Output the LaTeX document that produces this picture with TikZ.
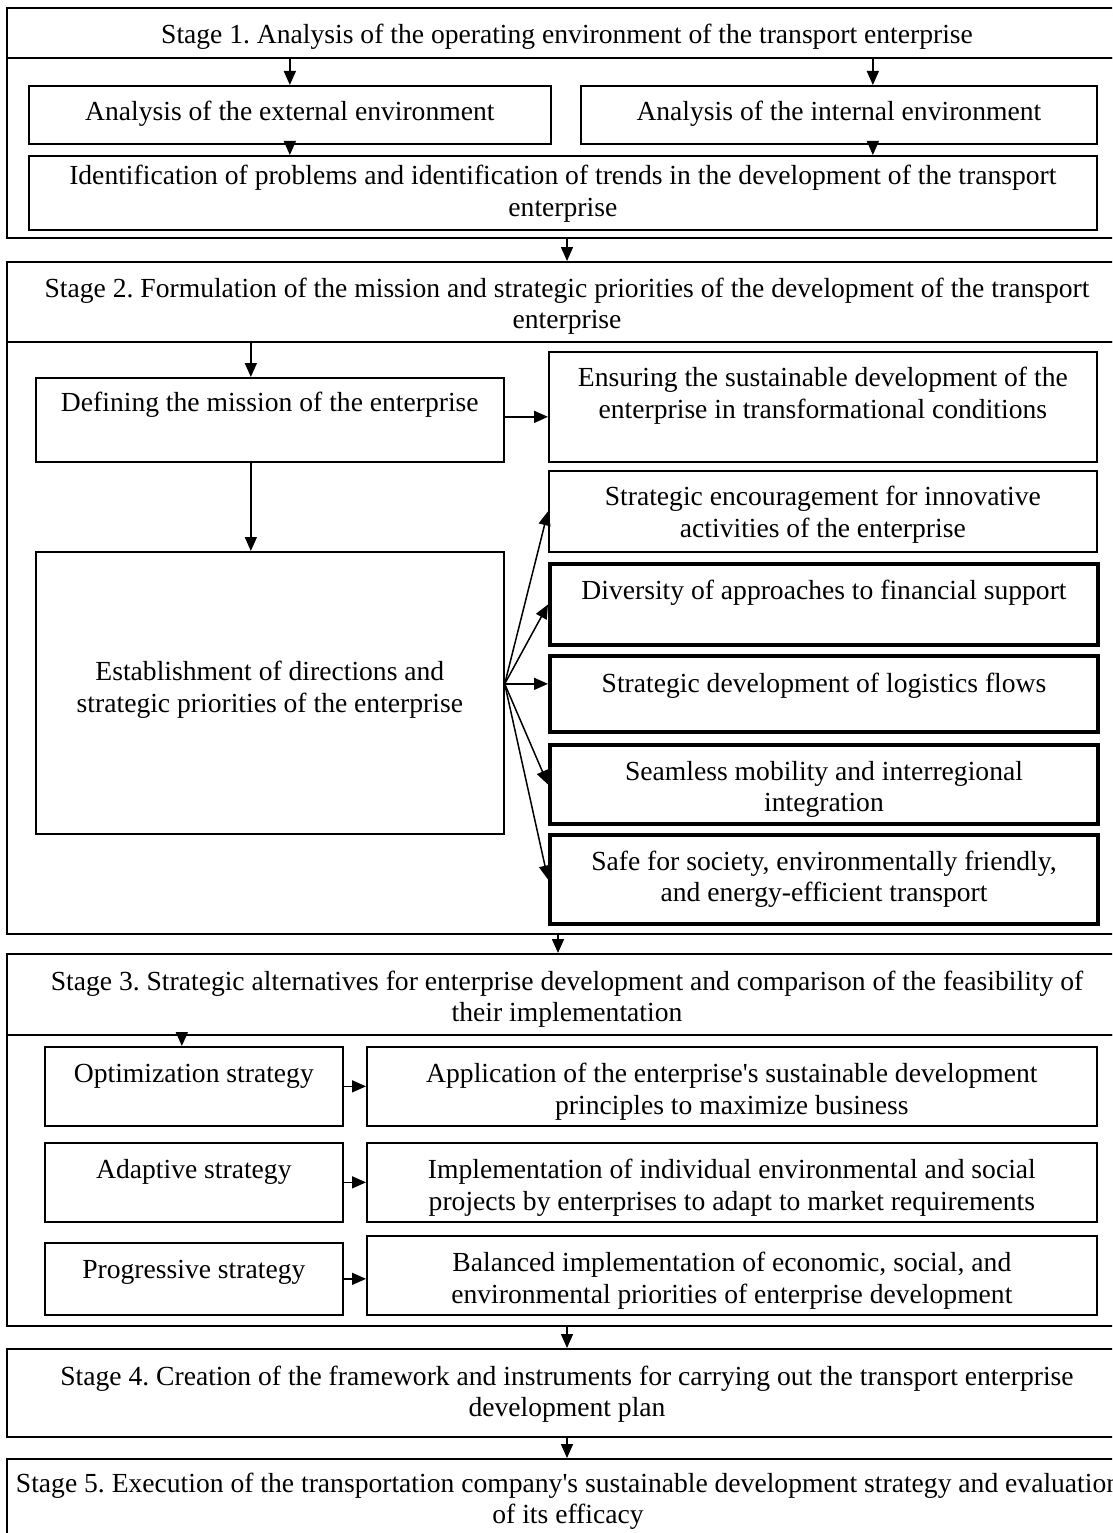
\documentclass[tikz,border=0pt]{standalone}
\usepackage{fontspec}
\setmainfont{Liberation Serif}
\usetikzlibrary{arrows.meta}
\frenchspacing

% text set at the top of a box: [baseline offset]{width}{height}{text}
\newcommand{\boxtext}[4][35pt]{\parbox[c][#3][t]{#2}{\centering\rule{0pt}{#1}#4}}

\tikzset{
  box/.style={draw, line width=1.7pt, inner sep=0pt, anchor=north west},
  boldbox/.style={box, line width=4pt},
  frame/.style={box, line width=2pt},
}

\begin{document}
\begin{tikzpicture}[x=1pt, y=-1pt,
  every node/.style={font=\fontsize{27.6pt}{31.5pt}\selectfont},
  >={Triangle[length=14pt,width=12pt]}, line width=1.5pt]
\useasboundingbox (0,0) rectangle (1112,1533);
\clip (0,0) rectangle (1112,1533);

% stage 1
\node[frame] (h1) at (6,7) {\boxtext[36pt]{1120pt}{50pt}{Stage 1. Analysis of the operating environment of the transport enterprise}};
\node[frame, minimum width=1120pt, minimum height=180pt] (b1) at (6,57) {};
\node[box] (ext) at (28,85) {\boxtext{522pt}{58pt}{Analysis of the external environment}};
\node[box] (int) at (580,85) {\boxtext{516pt}{58pt}{Analysis of the internal environment}};
\node[box] (idn) at (28,155) {\boxtext[29pt]{1068pt}{74pt}{Identification of problems and identification of trends in the development of the transport\\enterprise}};

\draw[->] (h1.south -| ext.north) -- (ext.north);
\draw[->] ([xshift=34pt]int.north |- h1.south) -- ([xshift=34pt]int.north);
\draw[->] (ext.south) -- (ext.south |- idn.north);
\draw[->] ([xshift=34pt]int.south) -- ([xshift=34pt]int.south |- idn.north);

% stage 2
\node[frame] (h2) at (6,261) {\boxtext{1120pt}{80pt}{Stage 2. Formulation of the mission and strategic priorities of the development of the transport\\enterprise}};
\node[frame, minimum width=1120pt, minimum height=592pt] (b2) at (6,341) {};
\node[box] (def) at (35,377) {\boxtext[34pt]{468pt}{84pt}{Defining the mission of the enterprise}};
\node[box] (est) at (35,551) {\boxtext[129pt]{468pt}{282pt}{Establishment of directions and\\strategic priorities of the enterprise}};
\node[box] (ens) at (548,351) {\boxtext{548pt}{110pt}{Ensuring the sustainable development of the\\enterprise in transformational conditions}};
\node[box] (str) at (548,470) {\boxtext{548pt}{81pt}{Strategic encouragement for innovative\\activities of the enterprise}};
\node[boldbox] (div) at (548,562) {\boxtext{548pt}{81pt}{Diversity of approaches to financial support}};
\node[boldbox] (log) at (548,654) {\boxtext[36pt]{548pt}{76pt}{Strategic development of logistics flows}};
\node[boldbox] (sea) at (548,743) {\boxtext{548pt}{79pt}{Seamless mobility and interregional\\integration}};
\node[boldbox] (saf) at (548,833) {\boxtext{548pt}{89pt}{Safe for society, environmentally friendly,\\and energy-efficient transport}};

\draw[->] (b1.south) -- (h2.north);
\draw[->] ([xshift=-19pt]def.north |- h2.south) -- ([xshift=-19pt]def.north);
\draw[->] ([yshift=3pt]def.east) -- ([yshift=3pt]def.east -| ens.west);
\draw[->] ([xshift=-19pt]def.south) -- ([xshift=-19pt]est.north);
\foreach \t in {str, div, sea, saf}
  \draw[->] ([yshift=9pt]est.east) -- (\t.west);
\draw[->] ([yshift=9pt]est.east) -- ([yshift=9pt]est.east -| log.west);

% stage 3
\node[frame] (h3) at (6,953) {\boxtext[36pt]{1120pt}{81pt}{Stage 3. Strategic alternatives for enterprise development and comparison of the feasibility of\\their implementation}};
\node[frame, minimum width=1120pt, minimum height=291pt] (b3) at (6,1034) {};
\node[box] (opt) at (44,1046) {\boxtext[36pt]{298pt}{79pt}{Optimization strategy}};
\node[box] (app) at (366,1046) {\boxtext[36pt]{730pt}{79pt}{Application of the enterprise\textquotesingle s sustainable development\\principles to maximize business}};
\node[box] (ada) at (44,1142) {\boxtext[36pt]{298pt}{79pt}{Adaptive strategy}};
\node[box] (imp) at (366,1142) {\boxtext[36pt]{730pt}{79pt}{Implementation of individual environmental and social\\projects by enterprises to adapt to market requirements}};
\node[box] (pro) at (44,1242) {\boxtext[36pt]{298pt}{72pt}{Progressive strategy}};
\node[box] (bal) at (366,1235) {\boxtext[36pt]{730pt}{79pt}{Balanced implementation of economic, social, and\\environmental priorities of enterprise development}};

\draw[->] ([xshift=-9pt]b2.south) -- ([xshift=-9pt]h3.north);
\draw[->] ([xshift=-12pt]opt.north |- h3.south) -- ([xshift=-12pt]opt.north);
\draw[->] (opt.east) -- (opt.east -| app.west);
\draw[->] (ada.east) -- (ada.east -| imp.west);
\draw[->] (pro.east) -- (pro.east -| bal.west);

% stages 4 and 5
\node[frame] (s4) at (6,1348) {\boxtext[36pt]{1120pt}{88pt}{Stage 4. Creation of the framework and instruments for carrying out the transport enterprise\\development plan}};
\node[frame] (s5) at (6,1458) {\boxtext[33pt]{1122pt}{90pt}{Stage 5. Execution of the transportation company\textquotesingle s sustainable development strategy and evaluation\\of its efficacy}};

\draw[->] (b3.south) -- (s4.north);
\draw[->] (s4.south) -- (s4.south |- s5.north);

\end{tikzpicture}
\end{document}
